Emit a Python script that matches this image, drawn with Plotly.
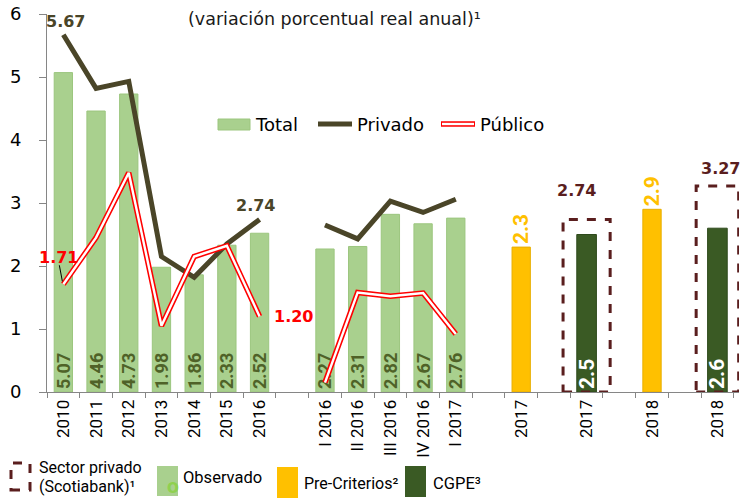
import plotly.graph_objects as go

# ---------------- data ----------------
categorias = ["2010", "2011", "2012", "2013", "2014", "2015", "2016", "",
              "I 2016", "II 2016", "III 2016", "IV 2016", "I 2017", "",
              "2017", "", "2017", "", "2018", "", "2018"]

obs_slots = [0, 1, 2, 3, 4, 5, 6, 8, 9, 10, 11, 12]
total_obs = [5.07, 4.46, 4.73, 1.98, 1.86, 2.33, 2.52, 2.27, 2.31, 2.82, 2.67, 2.76]
privado = [5.67, 4.82, 4.93, 2.15, 1.82, 2.35, 2.74, 2.65, 2.43, 3.03, 2.85, 3.06]
publico = [1.71, 2.45, 3.48, 1.05, 2.15, 2.32, 1.20, 0.15, 1.58, 1.52, 1.57, 0.92]

pc_slots = [14, 18]
pre_criterios = [2.3, 2.9]
cgpe_slots = [16, 20]
cgpe = [2.5, 2.6]
scotiabank = [2.74, 3.27]

# ---------------- styles ----------------
C_OBS = "#A9D08E"
C_OBS_EDGE = "#9CC67F"
C_YEL = "#FFC000"
C_DKG = "#3A5A24"
C_PRIV = "#4A4528"
C_OLIVE = "#4F6228"
C_MAROON = "#5A1E1E"
C_RED = "#FF0000"
AX = "#868686"
F_MAIN = "DejaVu Sans"
F_NARROW = "Roboto"

W, H = 752, 502
L, T = 47, 14
PLOT_R, PLOT_B = 739, 392
R, B = W - PLOT_R, H - PLOT_B
PW, PH = PLOT_R - L, PLOT_B - T


def px(x):
    return (x - L) / PW


def py(y):
    return (PLOT_B - y) / PH


def with_gaps(slots, vals):
    xs, ys = [], []
    for i, (s, v) in enumerate(zip(slots, vals)):
        if i > 0 and s - slots[i - 1] > 1:
            xs.append(s - 1)
            ys.append(None)
        xs.append(s)
        ys.append(v)
    return xs, ys


def note(x, y, text, size, color, family=F_MAIN, xanchor="left"):
    return dict(x=px(x), y=py(y), xref="paper", yref="paper", text=text,
                showarrow=False, xanchor=xanchor, yanchor="middle",
                font=dict(family=family, size=size, color=color))


fig = go.Figure()

fig.add_trace(go.Bar(
    x=obs_slots, y=total_obs, width=0.56,
    marker=dict(color=C_OBS, line=dict(color=C_OBS_EDGE, width=1)),
    text=[f"{v:.2f}" for v in total_obs], textposition="inside",
    insidetextanchor="start", textangle=-90, constraintext="none",
    textfont=dict(family=F_NARROW, size=18, color=C_OLIVE, weight="bold"),
    showlegend=False, hoverinfo="skip"))

fig.add_trace(go.Bar(
    x=pc_slots, y=pre_criterios, width=0.56,
    marker=dict(color=C_YEL, line=dict(color="#E8AE00", width=1)),
    text=[f"{v:.1f}" for v in pre_criterios], textposition="outside",
    textangle=-90, constraintext="none", cliponaxis=False,
    textfont=dict(family=F_NARROW, size=21, color=C_YEL, weight="bold"),
    showlegend=False, hoverinfo="skip"))

fig.add_trace(go.Bar(
    x=cgpe_slots, y=cgpe, width=0.6,
    marker=dict(color=C_DKG, line=dict(color="#2E4A1C", width=1)),
    text=[f"{v:.1f}" for v in cgpe], textposition="inside",
    insidetextanchor="start", textangle=-90, constraintext="none",
    textfont=dict(family=F_NARROW, size=21, color="white", weight="bold"),
    showlegend=False, hoverinfo="skip"))

xp, yp = with_gaps(obs_slots, privado)
fig.add_trace(go.Scatter(x=xp, y=yp, mode="lines", connectgaps=False,
                         line=dict(color=C_PRIV, width=5),
                         showlegend=False, hoverinfo="skip"))

xq, yq = with_gaps(obs_slots, publico)
fig.add_trace(go.Scatter(x=xq, y=yq, mode="lines", connectgaps=False,
                         line=dict(color=C_RED, width=5.5),
                         showlegend=False, hoverinfo="skip"))
fig.add_trace(go.Scatter(x=xq, y=yq, mode="lines", connectgaps=False,
                         line=dict(color="white", width=2.4),
                         showlegend=False, hoverinfo="skip"))

shapes = []
annotations = []

# Scotiabank dashed boxes
box_half = [0.72, 0.65]
lab_dx = [-0.3, 0.08]
lab_dy = [17, 6]
for s, v, hw, dx, dy in zip(cgpe_slots, scotiabank, box_half, lab_dx, lab_dy):
    shapes.append(dict(type="rect", xref="x", yref="y", x0=s - hw, x1=s + hw,
                       y0=0, y1=v, line=dict(color=C_MAROON, width=3, dash="dash")))
    annotations.append(dict(x=s + dx, y=v, xref="x", yref="y", text=f"<b>{v:.2f}</b>",
                            showarrow=False, yanchor="bottom", yshift=dy,
                            font=dict(family=F_MAIN, size=16, color=C_MAROON)))

# Privado labels
annotations.append(dict(x=obs_slots[0], y=privado[0], xref="x", yref="y",
                        text=f"<b>{privado[0]:.2f}</b>", showarrow=False,
                        yanchor="bottom", yshift=2, xshift=2,
                        font=dict(family=F_MAIN, size=16, color=C_PRIV)))
annotations.append(dict(x=obs_slots[6], y=privado[6], xref="x", yref="y",
                        text=f"<b>{privado[6]:.2f}</b>", showarrow=False,
                        yanchor="bottom", yshift=2, xshift=-4,
                        font=dict(family=F_MAIN, size=16, color=C_PRIV)))
# Publico labels
annotations.append(dict(x=obs_slots[0], y=publico[0], xref="x", yref="y",
                        text=f"<b>{publico[0]:.2f}</b>", showarrow=False,
                        yanchor="middle", xshift=-5, yshift=27,
                        font=dict(family=F_MAIN, size=16, color=C_RED)))
shapes.append(dict(type="line", xref="x", yref="y",
                   xsizemode="pixel", xanchor=obs_slots[0], x0=-4, x1=-1,
                   ysizemode="pixel", yanchor=publico[0], y0=19, y1=3,
                   line=dict(color="black", width=1)))
annotations.append(dict(x=obs_slots[6], y=publico[6], xref="x", yref="y",
                        text=f"<b>{publico[6]:.2f}</b>", showarrow=False,
                        xanchor="left", yanchor="middle", xshift=12, yshift=0,
                        font=dict(family=F_MAIN, size=16, color=C_RED)))

# Title
annotations.append(note(334, 19, "(variación porcentual real anual)¹", 17.5,
                        "#1a1a1a", xanchor="center"))

# Top legend
shapes.append(dict(type="rect", xref="paper", yref="paper", x0=px(218), x1=px(250),
                   y0=py(130), y1=py(119), fillcolor=C_OBS,
                   line=dict(color=C_OBS_EDGE, width=1)))
annotations.append(note(253, 124, "Total", 18, "black"))
shapes.append(dict(type="line", xref="paper", yref="paper", x0=px(318), x1=px(352),
                   y0=py(124), y1=py(124), line=dict(color=C_PRIV, width=5)))
annotations.append(note(355, 124, "Privado", 18, "black"))
shapes.append(dict(type="line", xref="paper", yref="paper", x0=px(441), x1=px(475),
                   y0=py(124), y1=py(124), line=dict(color=C_RED, width=5.5)))
shapes.append(dict(type="line", xref="paper", yref="paper", x0=px(442), x1=px(474),
                   y0=py(124), y1=py(124), line=dict(color="white", width=2.4)))
annotations.append(note(478, 124, "Público", 18, "black"))

# Bottom legend
shapes.append(dict(type="rect", xref="paper", yref="paper", x0=px(11), x1=px(30),
                   y0=py(490), y1=py(463), line=dict(color=C_MAROON, width=3, dash="dash")))
annotations.append(note(37, 468, "Sector privado", 16, "black", F_NARROW))
annotations.append(note(37, 486, "(Scotiabank)¹", 16, "black", F_NARROW))
shapes.append(dict(type="rect", xref="paper", yref="paper", x0=px(157), x1=px(178),
                   y0=py(496), y1=py(466), fillcolor=C_OBS, line=dict(width=0)))
annotations.append(note(173, 486, "<b>o</b>", 21, "#8FD14F", F_NARROW, "center"))
annotations.append(note(181, 477, "Observado", 16.5, "black", F_NARROW))
shapes.append(dict(type="rect", xref="paper", yref="paper", x0=px(277), x1=px(298),
                   y0=py(498), y1=py(467), fillcolor=C_YEL, line=dict(width=0)))
annotations.append(note(302, 484, "Pre-Criterios²", 16, "black", F_NARROW))
shapes.append(dict(type="rect", xref="paper", yref="paper", x0=px(405), x1=px(426),
                   y0=py(497), y1=py(466), fillcolor=C_DKG, line=dict(width=0)))
annotations.append(note(431, 484, "CGPE³", 16.5, "black", F_NARROW))

tick_pos = [i for i, c in enumerate(categorias) if c]
tick_txt = [c for c in categorias if c]

fig.update_layout(
    template="none",
    width=W, height=H,
    margin=dict(l=L, r=R, t=T, b=B, pad=0),
    paper_bgcolor="white", plot_bgcolor="white",
    barmode="overlay",
    shapes=shapes, annotations=annotations,
    xaxis=dict(range=[-0.5, 20.66], tickmode="array",
               tickvals=tick_pos, ticktext=tick_txt, tickangle=-90, ticks="",
               showline=True, linecolor=AX, linewidth=1, showgrid=False,
               zeroline=False, automargin=False, ticklabeloverflow="allow",
               tickfont=dict(family=F_NARROW, size=17, color="black"),
               minor=dict(tickmode="linear", tick0=-0.5, dtick=1, ticks="outside",
                          ticklen=5, tickcolor=AX, tickwidth=1, showgrid=False)),
    yaxis=dict(range=[0, 6], dtick=1, tickmode="linear", tick0=0,
               ticks="outside", ticklen=7, tickcolor=AX, ticklabelstandoff=14,
               showline=True, linecolor=AX, linewidth=1, showgrid=False,
               zeroline=False, automargin=False, ticklabeloverflow="allow",
               tickfont=dict(family=F_MAIN, size=18, color="black")),
    font=dict(family=F_MAIN),
)

fig.write_html("out.html",
               config={"displayModeBar": False},
               post_script="document.body.style.margin='0';"
                           "document.body.style.overflow='hidden';")
